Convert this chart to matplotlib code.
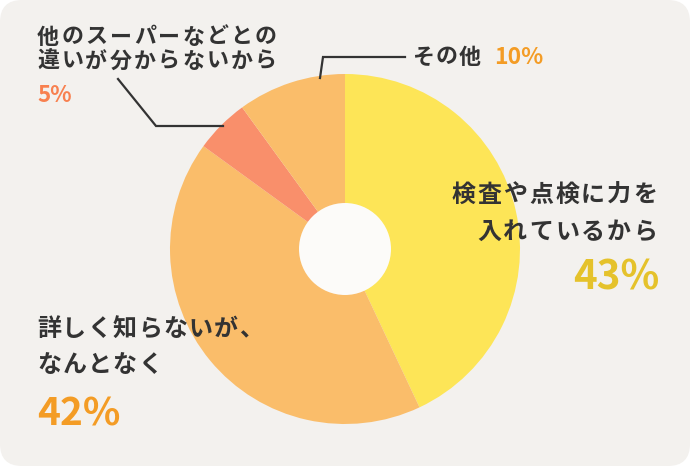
import matplotlib.pyplot as plt
from matplotlib.patches import FancyBboxPatch, Circle

plt.rcParams['font.family'] = ['Noto Sans CJK JP', 'DejaVu Sans']

# data
labels = ['検査や点検に力を入れているから', '詳しく知らないが、なんとなく',
          '他のスーパーなどとの違いが分からないから', 'その他']
shares = [43, 42, 5, 10]
colors = ['#fde557', '#fabd6a', '#f98f6b', '#fabd6a']
pct_colors = ['#e5c22b', '#f39c25', '#f8804f', '#f39c25']

W, H = 690, 466
DARK = '#333333'

fig = plt.figure(figsize=(W / 100, H / 100), dpi=100, facecolor='white')
ax = fig.add_axes([0, 0, 1, 1])

bg = FancyBboxPatch((0, 0), W, H, boxstyle='round,pad=0,rounding_size=22',
                    fc='#f3f1ee', ec='none', zorder=0)
ax.add_patch(bg)

cx, cy, r = 345, H - 249, 175
ax.pie(shares, colors=colors, startangle=90, counterclock=False,
       center=(cx, cy), radius=r, frame=True,
       wedgeprops=dict(linewidth=0, zorder=1))
ax.set_xlim(0, W)
ax.set_ylim(0, H)
ax.set_aspect('equal')
ax.axis('off')
ax.add_patch(Circle((cx, cy), 46, fc='#fcfbf9', ec='none', zorder=2))


def spaced(x, y, text, size, adv, ha='left'):
    # draw text one glyph at a time to mimic letter spacing (pixel units)
    n = len(text)
    if ha == 'right':
        x = x - ((n - 1) * adv + size)
    for i, ch in enumerate(text):
        ax.text(x + i * adv, H - y, ch, fontsize=size * 0.72, ha='left',
                va='center', color=DARK, fontweight='bold', zorder=5)


def pct(x, y, value, color, size, ha='left'):
    ax.text(x, H - y, f'{value}%', fontsize=size, ha=ha, va='center',
            color=color, fontweight='bold', zorder=5)


# leader lines
ax.plot([118, 156, 223], [H - 79, H - 126, H - 126], color=DARK, lw=1.6,
        solid_joinstyle='miter', zorder=4)
ax.plot([320, 323, 405], [H - 78, H - 57, H - 57], color=DARK, lw=1.6,
        solid_joinstyle='miter', zorder=4)

# top-left (5%)
spaced(37, 37, '他のスーパーなどとの', 22, 24.2)
spaced(37, 61, '違いが分からないから', 22, 24.2)
pct(37, 95, shares[2], pct_colors[2], 16)

# top (10%)
spaced(412, 57, 'その他', 22, 23.5)
pct(494, 57, shares[3], pct_colors[3], 16.5)

# right (43%)
spaced(657, 195, '検査や点検に力を', 24, 26, ha='right')
spaced(657, 232, '入れているから', 24, 26, ha='right')
pct(659, 278, shares[0], pct_colors[0], 29, ha='right')

# bottom-left (42%)
spaced(37, 329, '詳しく知らないが、', 24, 25.3)
spaced(37, 365, 'なんとなく', 24, 25.3)
pct(37, 414, shares[1], pct_colors[1], 28)

fig.savefig('out.png', dpi=100, facecolor='white')
